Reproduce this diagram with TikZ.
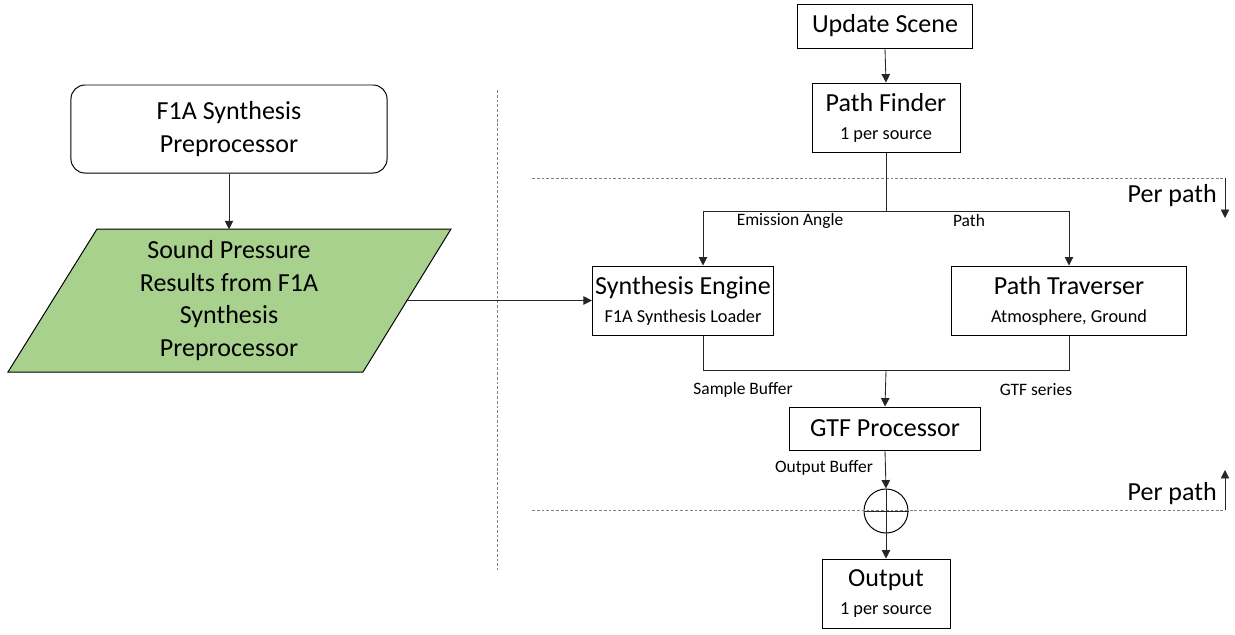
\documentclass[tikz,border=0pt]{standalone}
\usepackage{fontspec}
\setmainfont{Carlito}
\usepackage{tikz}
\usetikzlibrary{shapes,arrows.meta,positioning}
\usepackage{xcolor}
\definecolor{resultgreen}{HTML}{A9D18E}
\newcommand{\subtext}{\fontsize{13}{15}\selectfont}

\begin{document}
\begin{tikzpicture}[
    x=0.025cm, y=-0.025cm,
    font=\fontsize{18.5}{23}\selectfont,
    block/.style={
        draw=black,
        line width=0.7pt,
        fill=white,
        align=center,
        inner sep=2pt
    },
    lbl/.style={
        font=\fontsize{12.4}{14}\selectfont,
        inner sep=0pt
    },
    conn/.style={
        line width=0.6pt,
        black!85
    },
    arrow/.style={
        conn,
        -{Triangle[length=6pt,width=6pt]}
    },
    divider/.style={
        gray,
        line width=0.6pt,
        dash pattern=on 2pt off 1.4pt
    }
]
\useasboundingbox (0,0) rectangle (1235,634);

% Left column
\node[block, rounded corners=10pt, minimum width=7.9cm, minimum height=2.2cm] at (229,129) (pre) {
    F1A Synthesis\\
    Preprocessor
};
% Parallelogram with the preprocessor results
\filldraw[fill=resultgreen, draw=black, line width=0.7pt]
    (97,229) -- (451,229) -- (363,372) -- (8,372) -- cycle;
\node[align=center, inner sep=0pt, minimum width=8.85cm, minimum height=3.55cm,
      font=\fontsize{18.5}{23.3}\selectfont] at (229,300.5) (res) {
    Sound Pressure\\
    Results from F1A\\
    Synthesis\\
    Preprocessor
};

% Right column
\node[block, minimum width=4.375cm, minimum height=1.1cm] at (885,26) (upd) {Update Scene};
\node[block, minimum width=3.7cm, minimum height=1.725cm] at (886,117.5) (pf) {
    Path Finder\\[-3pt]
    {\subtext 1 per source}
};
\node[block, minimum width=4.35cm, minimum height=1.725cm] at (683,300.5) (se) {
    Synthesis Engine\\[-3pt]
    {\subtext F1A Synthesis Loader}
};
\node[block, minimum width=5.85cm, minimum height=1.725cm] at (1069,300.5) (pt) {
    Path Traverser\\[-3pt]
    {\subtext Atmosphere, Ground}
};
\node[block, minimum width=4.75cm, minimum height=1.075cm] at (885,428.5) (gtf) {GTF Processor};
\node[draw=black, line width=0.7pt, circle, minimum size=1.1cm, inner sep=0pt] at (886,511) (sum) {};
\node[block, minimum width=3.2cm, minimum height=1.725cm] at (886,593.5) (out) {
    Output\\[-3pt]
    {\subtext 1 per source}
};

% Per path bounds
\draw[divider] (532,178) -- (1224,178);
\draw[divider] (532,510) -- (1224,510);
\draw[divider] (497.5,90) -- (497.5,570);
\node[anchor=east, inner sep=0pt] at (1217,196) (pp1) {Per path};
\node[anchor=east, inner sep=0pt] at (1217,494) (pp2) {Per path};
\draw[arrow] (1225,178) -- (1225,218);
\draw[arrow] (1225,510) -- (1225,470);

% Connections
\draw[arrow] (pre.south) -- (res.north);
\draw[arrow] (res.east) -- (se.west);
\draw[arrow] (upd.south) -- (pf.north);
\coordinate (split) at (886,211);
\draw[conn] (pf.south) -- (split);
\draw[arrow] (split) -| ([xshift=0.5cm]se.north);
\draw[arrow] (split) -| (pt.north);
\coordinate (merge) at (886,370);
\draw[conn] ([xshift=0.5cm]se.south) |- (merge);
\draw[conn] (pt.south) |- (merge);
\draw[arrow] (merge) -- (gtf.north);
\draw[arrow] (gtf.south) -- (sum.north);
\draw[conn] (sum.north) -- (sum.south);
\draw[conn] (sum.west) -- (sum.east);
\draw[arrow] (sum.south) -- (out.north);

% Labels
\node[lbl] at (790,221) (l1) {Emission Angle};
\node[lbl] at (969,221) (l2) {Path};
\node[lbl] at (743,390) (l3) {Sample Buffer};
\node[lbl] at (1036,390) (l4) {GTF series};
\node[lbl] at (824,468) (l5) {Output Buffer};
\end{tikzpicture}
\end{document}
